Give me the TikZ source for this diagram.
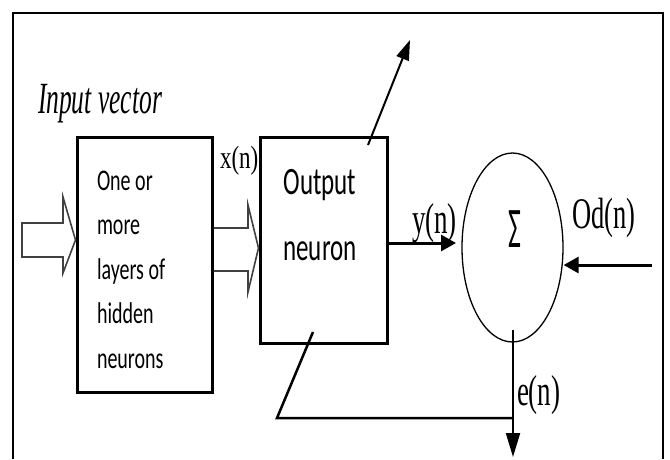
\documentclass[tikz,border=0pt]{standalone}
\usepackage{fontspec}
\setmainfont{Liberation Serif}
\newfontfamily\calfont{Carlito}
\usetikzlibrary{arrows.meta,shapes.geometric}
\newcommand{\vlab}[3]{\scalebox{1}[#1]{\fontsize{#2}{#2}\selectfont #3}}
\begin{document}
\begin{tikzpicture}[x=1pt,y=-1pt,
  frameline/.style={line width=2pt},
  blockbox/.style={draw,line width=3pt,rectangle,inner sep=0pt},
  sumnode/.style={draw,ellipse,line width=1.3pt,inner sep=0pt},
  txt/.style={inner sep=0pt,outer sep=0pt},
  hollow/.style={draw=black!75,line width=1.6pt,line join=miter},
  boldarrow/.style={line width=3pt,-{Triangle[length=15pt,width=16pt]}},
  thinarrow/.style={line width=2pt,-{Triangle[length=20pt,width=13pt]}},
  fbline/.style={line width=2.5pt}
]
\useasboundingbox (0,0) rectangle (670,459);
% frame
\draw[frameline] (13,459) -- (13,13) -- (663,13) -- (663,459);

% blocks
\node[blockbox,minimum width=135pt,minimum height=255pt] (hidden) at (144.5,264.5) {};
\node[blockbox,minimum width=127pt,minimum height=206pt] (output) at (323.5,240) {};
\node[sumnode,minimum width=101pt,minimum height=189pt] (sum) at (512.5,247.5) {};

% texts
\node[txt,anchor=base west] (hiddentext) at (97,190)
  {\scalebox{1}[1.5]{\parbox[t]{90pt}{\raggedright\calfont\fontsize{20}{29.7}\selectfont One or\\ more\\ layers of\\ hidden\\ neurons}}};
\node[txt,anchor=base] (outtext) at (320,194)
  {\scalebox{1}[1.55]{\parbox[t]{100pt}{\centering\calfont\fontsize{25}{42.6}\selectfont Output\\ neuron}}};
\node[txt,anchor=base] (sigma) at (515,247) {\scalebox{1}[2.05]{\calfont\fontsize{28}{28}\selectfont Σ}};
\node[txt,anchor=base west] (invec) at (38,113) {\vlab{1.75}{25.5}{\itshape Input vector}};
\node[txt,anchor=base west] (xlab) at (220,168) {\vlab{1.4}{23}{x(n)}};
\node[txt,anchor=base west] (ylab) at (412,233) {\vlab{1.6}{27}{y(n)}};
\node[txt,anchor=base west] (odlab) at (572,228) {\vlab{1.65}{26.5}{Od(n)}};
\node[txt,anchor=base west] (elab) at (517,405) {\vlab{1.6}{27}{e(n)}};

% hollow input arrow
\draw[hollow] (22,223) -- (63,223) -- (63,197) -- (hidden.west |- 0,240) -- (63,273) -- (63,257) -- (22,257) -- cycle;
% hollow arrow between blocks
\draw[hollow] (hidden.east |- 0,228) -- (248,228) -- (248,205) -- (output.west |- 0,248) -- (248,292) -- (248,271) -- (hidden.east |- 0,271);

% connectors
\coordinate (upstart) at (368,145);
\coordinate (upend) at (410,40);
\draw[thinarrow] (upstart) -- (upend);

\coordinate (ytip) at (456,243);
\draw[boldarrow] (output.east |- ytip) -- (ytip);

\coordinate (odstart) at (652,265);
\draw[boldarrow] (odstart) -- (sum.east |- odstart);

\coordinate (estart) at (513,330);
\coordinate (eend) at (513,457);
\draw[line width=2pt,-{Triangle[length=24pt,width=14pt]}] (estart) -- (eend);

\coordinate (fbstart) at (313,332);
\coordinate (fbcorner) at (277,418);
\draw[fbline] (fbstart) -- (fbcorner) -- (fbcorner -| estart);
\end{tikzpicture}
\end{document}
